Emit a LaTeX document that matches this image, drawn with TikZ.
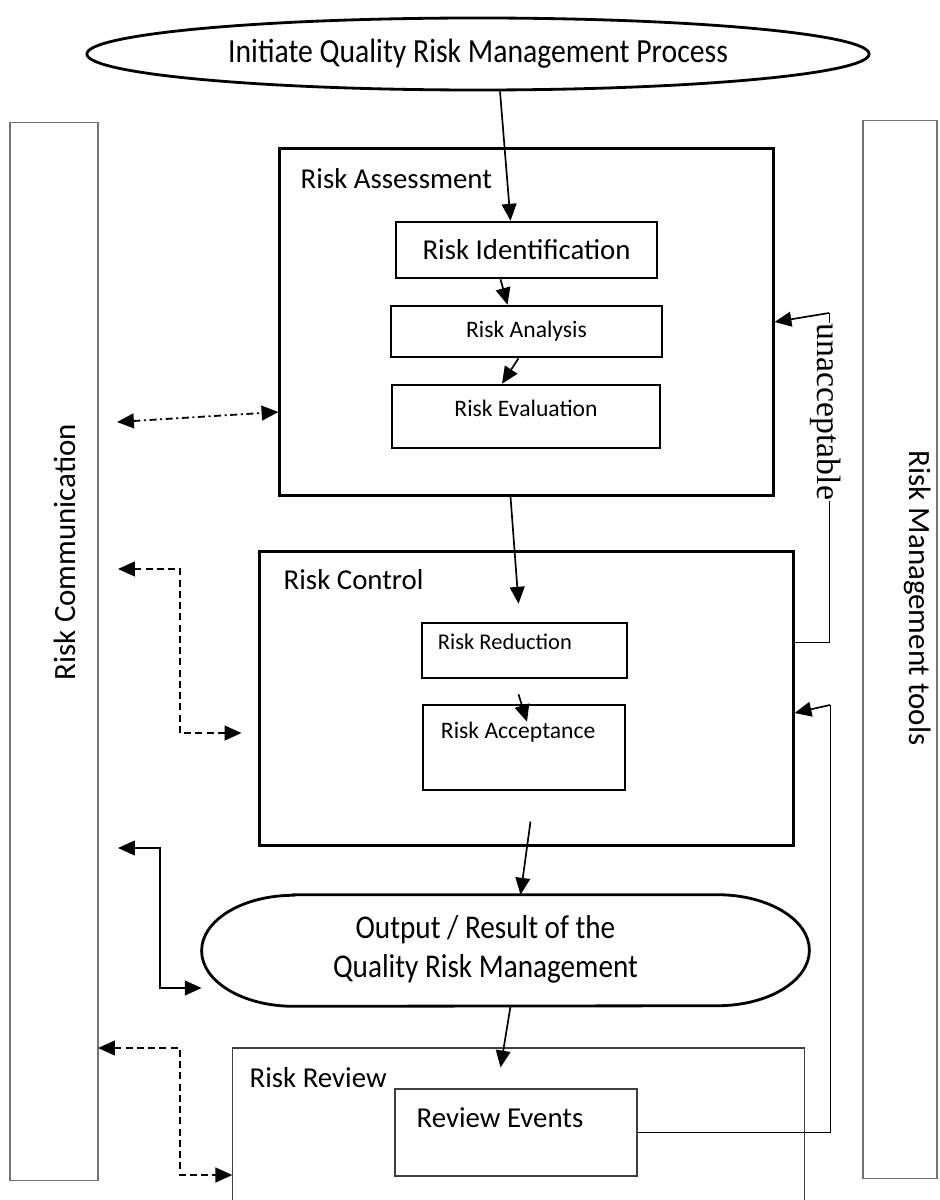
\documentclass[tikz,border=0pt]{standalone}
\usepackage{fontspec}
\setmainfont{Carlito}
\newfontfamily\narrowfont[FakeStretch=0.88]{Carlito}
\newfontfamily\seriffont{Liberation Serif}
\usetikzlibrary{arrows.meta,calc,positioning,shapes.geometric}
\tikzset{
    bigtext/.style = {
        font=\fontsize{20.5}{24}\selectfont,
        inner sep=0pt,
        },
    smalltext/.style = {
        font=\fontsize{16.8}{20}\selectfont,
        inner sep=0pt,
        },
    sidetext/.style = {
        font=\fontsize{22}{26}\selectfont,
        inner sep=0pt,
        },
    stage/.style = {
        draw,
        line width=2.1pt,
        },
    substage/.style = {
        draw,
        line width=1.8pt,
        },
    plainbox/.style = {
        draw=black!75,
        line width=0.8pt,
        },
    sidebox/.style = {
        draw=black!55,
        line width=0.8pt,
        },
    terminal/.style = {
        draw,
        ellipse,
        line width=2pt,
        inner sep=0pt,
        font=\narrowfont\fontsize{24}{28}\selectfont,
        },
    flow/.style = {
        -{Triangle[length=12pt,width=10.5pt]},
        line width=1.2pt,
        },
    twoway/.style = {
        {Triangle[length=12pt,width=10.5pt]}-{Triangle[length=12pt,width=10.5pt]},
        line width=1.3pt,
        },
    dashline/.style = {
        dash pattern=on 5pt off 3pt,
        },
    dashdotline/.style = {
        dash pattern=on 5pt off 2.5pt on 1.5pt off 2.5pt,
        },
    loopline/.style = {
        line width=0.7pt,
        },
}

\begin{document}
\begin{tikzpicture}[x=0.025cm,y=-0.025cm]
    \path[use as bounding box, fill=white] (0,0) rectangle (939,1200);
    \clip (0,0) rectangle (939,1200);

    % start of the process
    \node[terminal, minimum width=19.55cm, minimum height=1.8cm] (init) at (478,54) {Initiate Quality Risk Management Process};

    % side columns
    \node[sidebox, minimum width=2.2cm, minimum height=26.425cm] (comm) at (54,651.5) {};
    \node[sidetext, rotate=90] (commtxt) at (65,552) {Risk Communication};
    \node[sidebox, minimum width=1.85cm, minimum height=26.425cm] (tools) at (900,649.5) {};
    \node[sidetext, rotate=-90] (toolstxt) at (918,598) {Risk Management tools};

    % risk assessment
    \node[stage, minimum width=12.325cm, minimum height=8.65cm] (assess) at (526.5,322) {};
    \node[bigtext, anchor=west] (assesstxt) at ($(assess.north west)+(22,31)$) {Risk Assessment};
    \node[substage, minimum width=6.525cm, minimum height=1.4cm, bigtext] (ident) at (526.5,250) {Risk Identification};
    \node[substage, minimum width=6.775cm, minimum height=1.275cm, smalltext] (analysis) at (526.5,331.5) {Risk Analysis};
    \node[substage, minimum width=6.7cm, minimum height=1.575cm] (eval) at (526,416.5) {};
    \node[smalltext] (evaltxt) at ($(eval.north)+(0,25)$) {Risk Evaluation};

    % risk control
    \node[stage, minimum width=13.325cm, minimum height=7.325cm] (ctrl) at (526.5,698.5) {};
    \node[bigtext, anchor=west] (ctrltxt) at ($(ctrl.north west)+(25,29)$) {Risk Control};
    \node[substage, minimum width=5.125cm, minimum height=1.375cm] (reduce) at (524.5,650.5) {};
    \node[smalltext, font=\fontsize{16}{19}\selectfont, anchor=west] (reducetxt) at ($(reduce.north west)+(17,20)$) {Risk Reduction};
    \node[substage, minimum width=5.05cm, minimum height=2.125cm] (accept) at (524,747.5) {};
    \node[smalltext, anchor=west] (accepttxt) at ($(accept.north west)+(19,28)$) {Risk Acceptance};

    % output
    \node[minimum width=15.175cm, minimum height=2.775cm, inner sep=0pt, font=\narrowfont\fontsize{23.6}{27.7}\selectfont] (output) at (505.5,950.5) {\begin{tabular}{@{}c@{}}Output / Result of the\\Quality Risk Management\end{tabular}\hspace*{1cm}};
    \draw[line width=2pt] ($(output.north west)+(92,0)$) -- ($(output.north east)+(-92,0)$)
        arc[start angle=90, end angle=-90, x radius=2.3cm, y radius=1.3875cm]
        -- ($(output.south west)+(92,0)$)
        arc[start angle=270, end angle=90, x radius=2.3cm, y radius=1.3875cm] -- cycle;

    % risk review
    \node[plainbox, minimum width=14.275cm, minimum height=6.35cm] (review) at (518.5,1175) {};
    \node[bigtext, anchor=west] (reviewtxt) at ($(review.north west)+(17,30)$) {Risk Review};
    \node[plainbox, minimum width=6.05cm, minimum height=2.175cm] (events) at (516,1132.5) {};
    \node[bigtext, anchor=west] (eventstxt) at ($(events.north west)+(22,29)$) {Review Events};

    % main flow
    \draw[flow] ($(init.south)+(22,0)$) -- ($(ident.north)+(-16,0)$);
    \draw[flow] ($(ident.south)+(-26,0)$) -- ($(analysis.north)+(-19,0)$);
    \draw[flow] ($(analysis.south)+(-8,0)$) -- ($(eval.north)+(-24,0)$);
    \draw[flow] ($(assess.south)+(-16,0)$) -- ($(reduce.north)+(-6,-18)$);
    \draw[flow] ($(reduce.south)+(-6,15)$) -- ($(accept.north)+(3,18)$);
    \draw[flow] ($(ctrl.south)+(4,-25)$) -- ($(output.north)+(15,0)$);
    \draw[flow] ($(output.south)+(5,0)$) -- ($(review.north)+(-18,20)$);

    % communication links
    \coordinate (c1) at (117,422);
    \coordinate (c2) at (118,569);
    \coordinate (c3) at (118,848);
    \coordinate (c4) at (98,1048);
    \draw[twoway, dashdotline] (c1) -- ($(assess.west)+(0,90)$);
    \draw[twoway, dashline] (c2) -- ++(62,0) |- ($(ctrl.west)+(-17,34.5)$);
    \draw[twoway] (c3) -- ++(42,0) |- ($(output.west)+(0,37.5)$);
    \draw[twoway, dashline] (c4) -- ++(82,0) |- (review.west);

    % feedback loops
    \coordinate (ua) at (829,313);
    \coordinate (rt) at (830,705);
    \draw[loopline] ($(ctrl.east)+(0,-56.5)$) -| (ua);
    \draw[flow] (ua) -- (assess.east);
    \draw[loopline] (events.east) -| (rt);
    \draw[flow] (rt) -- ($(ctrl.east)+(0,14.5)$);
    \node[rotate=-90, fill=white, inner sep=1pt, font=\seriffont\fontsize{24}{28}\selectfont] (unacc) at (826,412) {unacceptable};
\end{tikzpicture}
\end{document}
